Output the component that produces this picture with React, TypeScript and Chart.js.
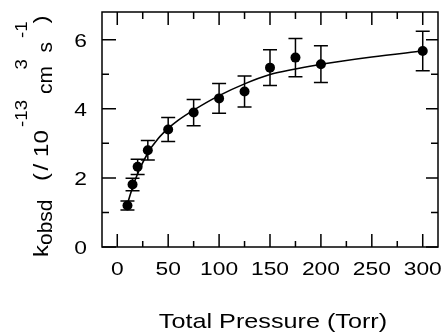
import { useEffect, useRef } from "react";
import { Chart, registerables } from "chart.js";

Chart.register(...registerables);

// ---- data ----
const PRESSURE = [10, 15, 20, 30, 50, 75, 100, 125, 150, 175, 200, 300];
const K_OBSD = [1.2, 1.81, 2.32, 2.8, 3.4, 3.89, 4.3, 4.5, 5.19, 5.48, 5.29, 5.67];
const K_ERR = [0.13, 0.18, 0.22, 0.28, 0.35, 0.38, 0.43, 0.45, 0.52, 0.55, 0.53, 0.57];
const FIT_P = [10, 15, 20, 30, 40, 50, 60, 75, 100, 125, 150, 175, 200, 250, 300];
const FIT_K = [1.25, 1.72, 2.12, 2.72, 3.13, 3.43, 3.67, 3.96, 4.38, 4.72, 4.99, 5.15, 5.29, 5.5, 5.67];
const X_TICKS = [0, 50, 100, 150, 200, 250, 300];
const Y_TICKS = [0, 2, 4, 6];
const X_TITLE = "Total Pressure (Torr)";
// y title pieces: text, role (main / sub / sup)
const Y_TITLE_PARTS: [string, string][] = [
  ["k", "main"],
  ["obsd", "sub"],
  ["(", "main"],
  ["/", "main"],
  ["1", "main"],
  ["0", "main"],
  ["-13", "sup"],
  ["cm", "sub"],
  ["3", "sup"],
  ["s", "sub"],
  ["-1", "sup"],
  [")", "main"],
];

const FONT = '"Liberation Sans", Arial, Helvetica, sans-serif';
const STRETCH = 1.2;

// layout of y-title pieces (bottom edge on screen) — typographic layout only
const Y_TITLE_STARTS = [257, 245, 181, 170.5, 157, 143.5, 127, 94, 69.5, 52.5, 38, 23.5];

const decorPlugin = {
  id: "decor",
  beforeDatasetsDraw(chart: any) {
    const { ctx } = chart;
    const xs = chart.scales.x;
    const ys = chart.scales.y;
    ctx.save();
    ctx.strokeStyle = "#000";
    ctx.lineWidth = 1.5;
    PRESSURE.forEach((p, i) => {
      const px = xs.getPixelForValue(p);
      const top = ys.getPixelForValue(K_OBSD[i] + K_ERR[i]);
      const bot = ys.getPixelForValue(K_OBSD[i] - K_ERR[i]);
      ctx.beginPath();
      ctx.moveTo(px, top);
      ctx.lineTo(px, bot);
      ctx.moveTo(px - 7, top);
      ctx.lineTo(px + 7, top);
      ctx.moveTo(px - 7, bot);
      ctx.lineTo(px + 7, bot);
      ctx.stroke();
    });
    ctx.restore();
  },
  afterDraw(chart: any) {
    const { ctx, chartArea: a } = chart;
    const xs = chart.scales.x;
    const ys = chart.scales.y;
    ctx.save();
    ctx.strokeStyle = "#000";
    ctx.fillStyle = "#000";
    ctx.lineWidth = 1.5;
    ctx.strokeRect(a.left, a.top, a.right - a.left, a.bottom - a.top);

    // x ticks (inward, top and bottom)
    const xv = xs.ticks.map((t: any) => t.value);
    ctx.beginPath();
    xv.forEach((v: number, i: number) => {
      const px = xs.getPixelForValue(v);
      ctx.moveTo(px, a.bottom);
      ctx.lineTo(px, a.bottom - 13);
      ctx.moveTo(px, a.top);
      ctx.lineTo(px, a.top + 13);
      if (i < xv.length - 1) {
        const mx = xs.getPixelForValue((v + xv[i + 1]) / 2);
        ctx.moveTo(mx, a.bottom);
        ctx.lineTo(mx, a.bottom - 6);
        ctx.moveTo(mx, a.top);
        ctx.lineTo(mx, a.top + 7);
      }
    });
    // y ticks (inward, left and right)
    const yv = ys.ticks.map((t: any) => t.value);
    yv.forEach((v: number, i: number) => {
      const py = ys.getPixelForValue(v);
      ctx.moveTo(a.left, py);
      ctx.lineTo(a.left + 14, py);
      ctx.moveTo(a.right, py);
      ctx.lineTo(a.right - 12, py);
      if (i < yv.length - 1) {
        const my = ys.getPixelForValue((v + yv[i + 1]) / 2);
        ctx.moveTo(a.left, my);
        ctx.lineTo(a.left + 7, my);
        ctx.moveTo(a.right, my);
        ctx.lineTo(a.right - 7, my);
      }
    });
    ctx.stroke();

    // x tick labels
    ctx.font = `19px ${FONT}`;
    ctx.textAlign = "center";
    ctx.textBaseline = "alphabetic";
    xv.forEach((v: number) => {
      const px = xs.getPixelForValue(v);
      ctx.save();
      ctx.translate(px, a.bottom + 28);
      ctx.scale(STRETCH, 1);
      ctx.fillText(String(v), 0, 0);
      ctx.restore();
    });
    // y tick labels
    ctx.textAlign = "right";
    yv.forEach((v: number) => {
      const py = ys.getPixelForValue(v);
      ctx.save();
      ctx.translate(a.left - 15, py + 7);
      ctx.scale(STRETCH, 1);
      ctx.fillText(String(v), 0, 0);
      ctx.restore();
    });
    // x title
    ctx.font = `21px ${FONT}`;
    ctx.textAlign = "center";
    ctx.save();
    ctx.translate((a.left + a.right) / 2 + 3, 328);
    ctx.scale(STRETCH, 1);
    ctx.fillText(X_TITLE, 0, 0);
    ctx.restore();

    // y title, rotated
    ctx.textAlign = "left";
    Y_TITLE_PARTS.forEach(([txt, role], i) => {
      const size = role === "sup" ? 17 : 20;
      const bx = role === "sup" ? 26.7 : role === "sub" ? 51.7 : 48.3;
      const sc = role === "sub" ? 1.05 : role === "sup" ? 1.1 : 1.2;
      ctx.font = `${size}px ${FONT}`;
      ctx.save();
      ctx.translate(bx, Y_TITLE_STARTS[i]);
      ctx.rotate(-Math.PI / 2);
      ctx.scale(sc, 1);
      ctx.fillText(txt, 0, 0);
      ctx.restore();
    });
    ctx.restore();
  },
};

export default function App() {
  const ref = useRef<HTMLCanvasElement | null>(null);
  useEffect(() => {
    if (!ref.current) return;
    const chart = new Chart(ref.current, {
      type: "scatter",
      data: {
        datasets: [
          {
            data: PRESSURE.map((p, i) => ({ x: p, y: K_OBSD[i] })),
            pointRadius: 5,
            pointBackgroundColor: "#000",
            pointBorderWidth: 0,
            showLine: false,
            order: 0,
          },
          {
            data: FIT_P.map((p, i) => ({ x: p, y: FIT_K[i] })),
            showLine: true,
            pointRadius: 0,
            borderColor: "#000",
            borderWidth: 1.6,
            cubicInterpolationMode: "monotone",
            order: 1,
          },
        ],
      },
      options: {
        animation: false,
        responsive: false,
        devicePixelRatio: 1,
        layout: { padding: { top: 12, right: 7, left: 0, bottom: 0 } },
        plugins: { legend: { display: false }, tooltip: { enabled: false } },
        scales: {
          x: {
            type: "linear",
            min: -15,
            max: 315,
            ticks: { display: false },
            grid: { display: false },
            border: { display: false },
            afterBuildTicks: (s: any) => {
              s.ticks = X_TICKS.map((v) => ({ value: v }));
            },
            afterFit: (s: any) => {
              s.height = 86;
            },
          },
          y: {
            type: "linear",
            min: 0,
            max: 6.8,
            ticks: { display: false },
            grid: { display: false },
            border: { display: false },
            afterBuildTicks: (s: any) => {
              s.ticks = Y_TICKS.map((v) => ({ value: v }));
            },
            afterFit: (s: any) => {
              s.width = 102;
            },
          },
        },
      },
      plugins: [decorPlugin],
    });
    return () => chart.destroy();
  }, []);
  return (
    <div style={{ position: "absolute", left: 0, top: 0, width: 445, height: 333, background: "#fff" }}>
      <canvas ref={ref} width={445} height={333} />
    </div>
  );
}
